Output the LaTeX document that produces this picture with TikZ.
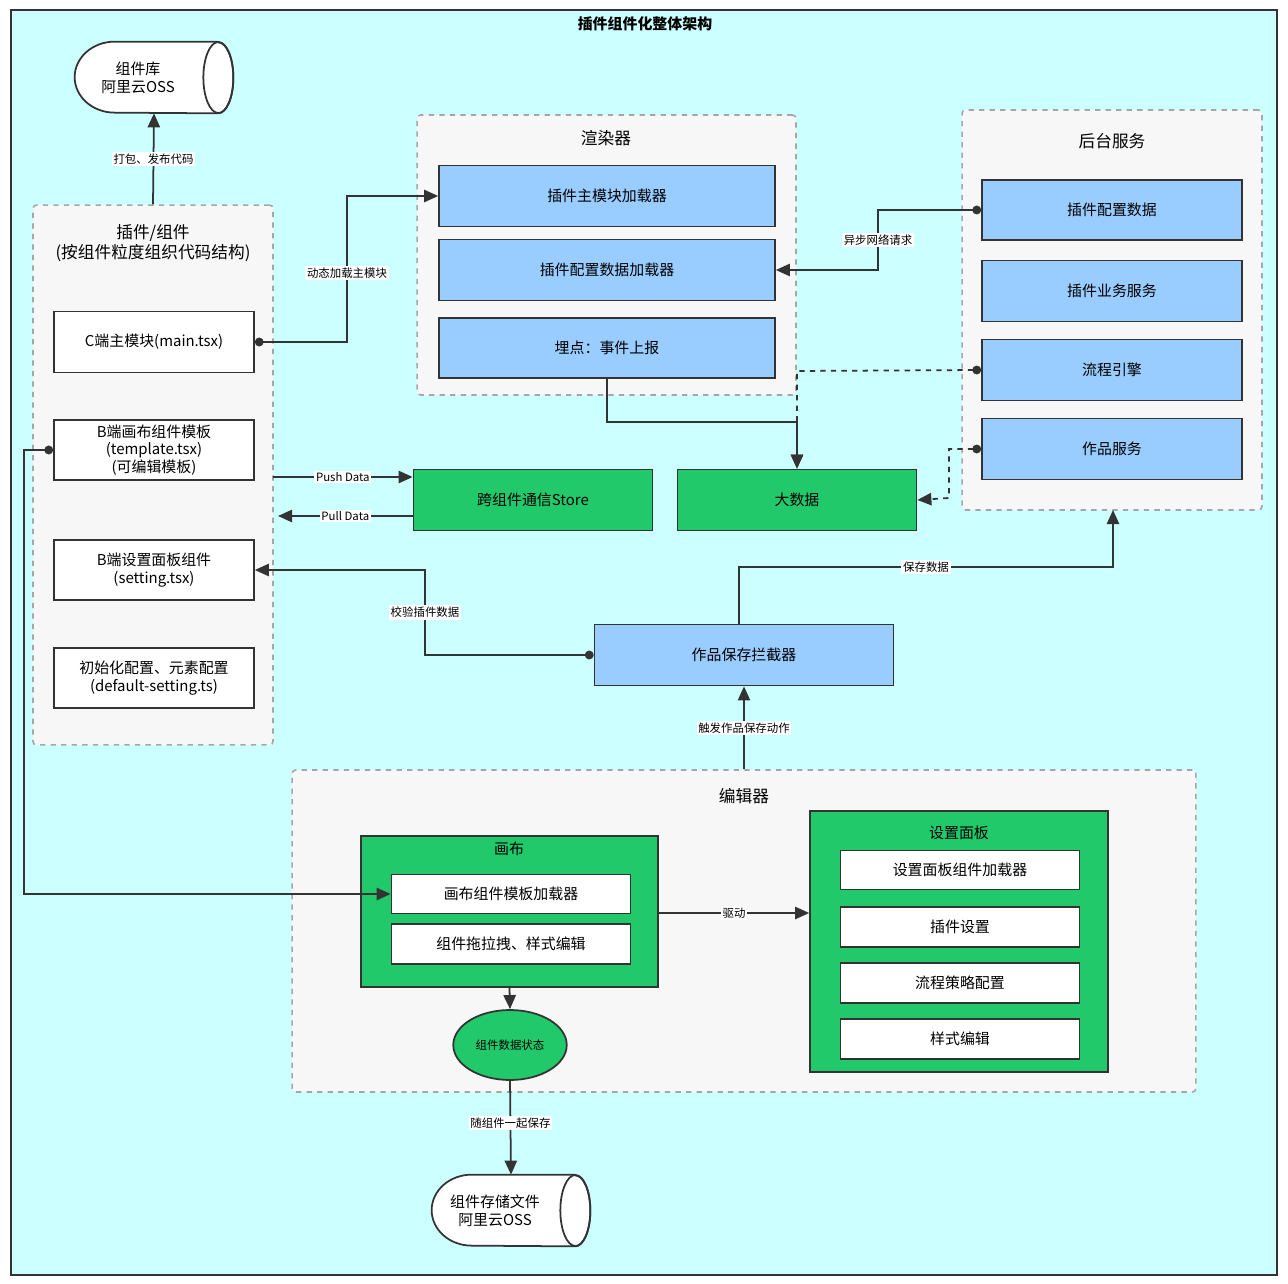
\documentclass[tikz,border=0pt]{standalone}
\usepackage{fontspec}
\setmainfont{Noto Sans CJK SC}
\usetikzlibrary{shapes.geometric,arrows.meta,positioning}
\definecolor{bgcyan}{HTML}{CCFFFF}
\definecolor{grpgray}{HTML}{F7F7F7}
\definecolor{lblue}{HTML}{99CCFF}
\definecolor{dgreen}{HTML}{21C96B}
\definecolor{edge}{HTML}{333333}
\tikzset{
  grp/.style={draw=gray!70, dashed, line width=0.9pt, fill=grpgray, rounded corners=2pt, inner sep=0pt},
  wbox/.style={draw=edge, line width=1pt, fill=white, font=\fontsize{8.5}{10}\selectfont, align=center, inner sep=0pt},
  bbox/.style={draw=edge, line width=1pt, fill=lblue, font=\fontsize{8.5}{10}\selectfont, inner sep=0pt},
  gbox/.style={draw=edge, line width=1pt, fill=dgreen, font=\fontsize{8.5}{10}\selectfont, inner sep=0pt},
  db/.style={minimum width=3.16cm, minimum height=1.42cm, inner sep=0pt},
  lbl/.style={fill=white, inner sep=1pt, font=\fontsize{6.5}{8}\selectfont},
  conn/.style={draw=edge, line width=1pt, -{Triangle[length=8pt,width=7pt]}},
  dotconn/.style={conn, {Circle[length=5pt]}-{Triangle[length=8pt,width=7pt]}},
}
% storage drum: name, centre x, centre y
\newcommand{\drum}[3]{%
  \node [db] (#1) at (#2,#3) {};
  \draw [edge, line width=1pt, fill=white] ([xshift=-0.3cm]#1.north east) -- ([xshift=0.8cm]#1.north west)
    arc [start angle=90, end angle=270, x radius=0.8cm, y radius=0.71cm]
    -- ([xshift=-0.3cm]#1.south east)
    arc [start angle=-90, end angle=90, x radius=0.3cm, y radius=0.71cm];
  \draw [edge, line width=1pt] ([xshift=-0.3cm]#1.east) ellipse [x radius=0.3cm, y radius=0.71cm];
}
\begin{document}
\begin{tikzpicture}[x=0.02cm, y=-0.02cm]
  \useasboundingbox (0,0) rectangle (1288,1284);
  % frame
  \draw [edge, line width=1pt, fill=bgcyan] (11,10) rectangle (1277,1275);
  \node [font=\bfseries\fontsize{8.5}{10}\selectfont] at (645,24) {插件组件化整体架构};

  % groups
  \node [grp, minimum width=4.8cm, minimum height=10.8cm] (plugin) at (153,475) {};
  \node [font=\fontsize{9.5}{11.5}\selectfont, align=center] at (153,243) {插件/组件\\(按组件粒度组织代码结构)};
  \node [grp, minimum width=7.58cm, minimum height=5.6cm] (render) at (606.5,255) {};
  \node [font=\fontsize{9.5}{11}\selectfont] at (606,138) {渲染器};
  \node [grp, minimum width=6cm, minimum height=8cm] (backend) at (1112,310) {};
  \node [font=\fontsize{9.5}{11}\selectfont] at (1112,141) {后台服务};
  \node [grp, minimum width=18.08cm, minimum height=6.44cm] (editor) at (744,931) {};
  \node [font=\fontsize{9.5}{11}\selectfont] at (744,796) {编辑器};

  % OSS
  \drum{oss}{154}{77.5}
  \node [font=\fontsize{8.5}{10}\selectfont, align=center] at (138,78) {组件库\\阿里云OSS};
  \drum{store}{511}{1210.5}
  \node [font=\fontsize{8.5}{10}\selectfont, align=center] at (495,1211) {组件存储文件\\阿里云OSS};

  % plugin parts
  \node [wbox, minimum width=4cm, minimum height=1.22cm] (cmain) at (154,342) {C端主模块(main.tsx)};
  \node [wbox, minimum width=4cm, minimum height=1.2cm] (btpl) at (154,450) {B端画布组件模板\\(template.tsx)\\(可编辑模板)};
  \node [wbox, minimum width=4cm, minimum height=1.2cm] (bset) at (154,570) {B端设置面板组件\\(setting.tsx)};
  \node [wbox, minimum width=4cm, minimum height=1.2cm] (init) at (154,678) {初始化配置、元素配置\\(default-setting.ts)};

  % renderer parts
  \node [bbox, minimum width=6.72cm, minimum height=1.22cm] (mainload) at (607,196) {插件主模块加载器};
  \node [bbox, minimum width=6.72cm, minimum height=1.22cm] (cfgload) at (607,270) {插件配置数据加载器};
  \node [bbox, minimum width=6.72cm, minimum height=1.2cm] (track) at (607,348) {埋点：事件上报};

  % backend parts
  \node [bbox, minimum width=5.2cm, minimum height=1.2cm] (cfgdata) at (1112,210) {插件配置数据};
  \node [bbox, minimum width=5.2cm, minimum height=1.22cm] (bizsvc) at (1112,291) {插件业务服务};
  \node [bbox, minimum width=5.2cm, minimum height=1.22cm] (flow) at (1112,370) {流程引擎};
  \node [bbox, minimum width=5.2cm, minimum height=1.22cm] (worksvc) at (1112,449) {作品服务};

  % middle
  \node [gbox, minimum width=4.78cm, minimum height=1.22cm] (bus) at (533,500) {跨组件通信Store};
  \node [gbox, minimum width=4.78cm, minimum height=1.22cm] (bigdata) at (797,500) {大数据};
  \node [bbox, minimum width=5.98cm, minimum height=1.22cm] (saver) at (744,655) {作品保存拦截器};

  % editor parts
  \node [gbox, minimum width=5.94cm, minimum height=3.02cm] (canvas) at (509.5,911.5) {};
  \node [font=\fontsize{8.5}{10}\selectfont] at (509,849) {画布};
  \node [wbox, minimum width=4.78cm, minimum height=0.78cm] (tplload) at (511,894) {画布组件模板加载器};
  \node [wbox, minimum width=4.78cm, minimum height=0.8cm] (drag) at (511,944) {组件拖拉拽、样式编辑};
  \node [gbox, minimum width=5.96cm, minimum height=5.22cm] (panel) at (959,941.5) {};
  \node [font=\fontsize{8.5}{10}\selectfont] at (959,833) {设置面板};
  \node [wbox, minimum width=4.78cm, minimum height=0.78cm] (panload) at (960,870) {设置面板组件加载器};
  \node [wbox, minimum width=4.78cm, minimum height=0.8cm] (plugset) at (960,927) {插件设置};
  \node [wbox, minimum width=4.78cm, minimum height=0.8cm] (flowcfg) at (960,983) {流程策略配置};
  \node [wbox, minimum width=4.78cm, minimum height=0.8cm] (style) at (960,1039) {样式编辑};
  \node [ellipse, draw=edge, line width=1pt, fill=dgreen, minimum width=2.2cm, minimum height=1.4cm, font=\fontsize{6.5}{8}\selectfont] (state) at (510,1045) {组件数据状态};

  % connectors
  \draw [conn] (plugin.north) -- node [lbl] {打包、发布代码} (oss.south);
  \draw [dotconn] (cmain.east) -- (347,342) -- node [lbl, pos=0.47] {动态加载主模块} (347,196) -- (mainload.west);
  \draw [dotconn] (cfgdata.west) -- (878,210) -- node [lbl] {异步网络请求} (878,270) -- (cfgload.east);
  \draw [conn] (track.south) -- (607,422) -- (797,422) -- (bigdata.north);
  \draw [dotconn, dashed] (flow.west) -- (797,371) -- (bigdata.north);
  \draw [dotconn, dashed] (worksvc.west) -- (949,449) -- (949,498) -- (bigdata.east);
  \draw [conn] (273,477) -- node [lbl] {Push Data} (bus.west |- 0,477);
  \draw [conn] (bus.west |- 0,516) -- node [lbl] {Pull Data} (278,516);
  \draw [dotconn] (saver.west) -- (425,655) -- node [lbl] {校验插件数据} (425,570) -- (bset.east);
  \draw [conn] (739,625) -- (739,567) -- node [lbl] {保存数据} (1113,567) -- (1113,510);
  \draw [conn] (editor.north) -- node [lbl] {触发作品保存动作} (saver.south);
  \draw [dotconn] (btpl.west) -- (24,450) -- (24,894) -- (tplload.west);
  \draw [conn] (canvas.east |- 0,913) -- node [lbl] {驱动} (panel.west |- 0,913);
  \draw [conn] (canvas.south) -- (state.north);
  \draw [conn] (state.south) -- node [lbl, pos=0.45] {随组件一起保存} (store.north);
\end{tikzpicture}
\end{document}
